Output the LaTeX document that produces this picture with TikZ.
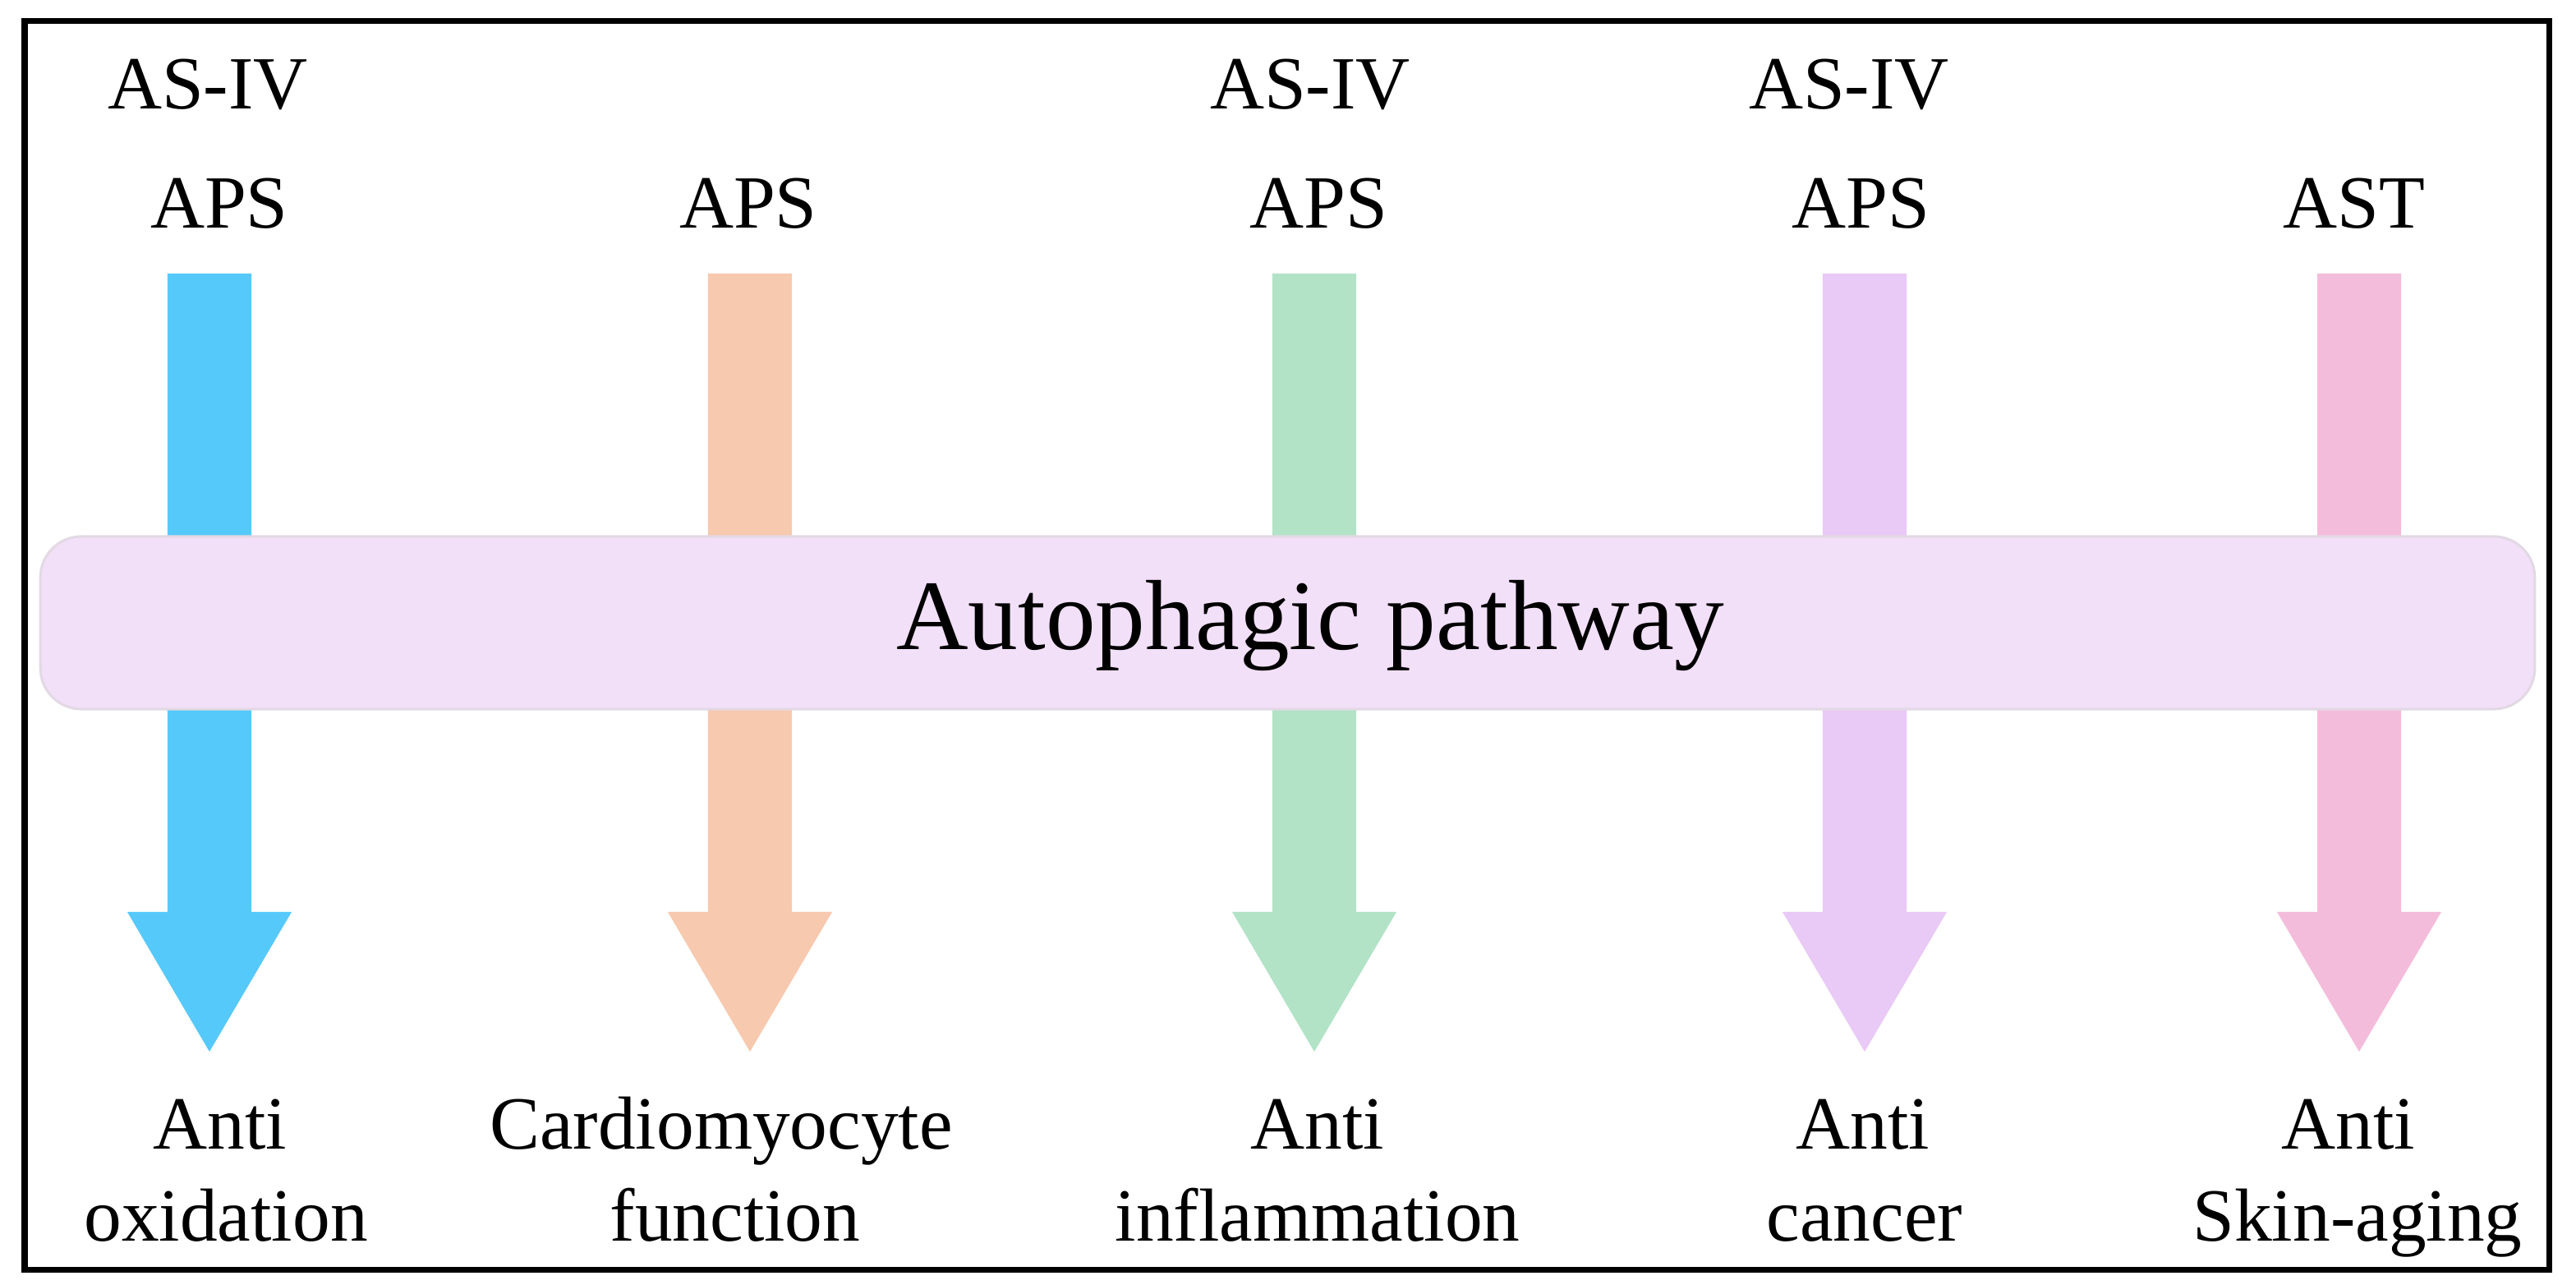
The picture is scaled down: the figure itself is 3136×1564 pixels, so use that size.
\documentclass[tikz,border=0pt]{standalone}
\usepackage{fontspec}
\setmainfont{Liberation Serif}
\definecolor{cblue}{HTML}{56C9FB}
\definecolor{corange}{HTML}{F7C9AE}
\definecolor{cgreen}{HTML}{B2E3C7}
\definecolor{cpurple}{HTML}{E9C9F5}
\definecolor{cpink}{HTML}{F4BCDB}
\definecolor{barfill}{HTML}{F2DFF8}
\definecolor{barline}{HTML}{E2D9E4}
\begin{document}
\begin{tikzpicture}[x=0.01cm,y=-0.01cm,
  lbl/.style={inner sep=0pt, anchor=base, font=\fontsize{26}{30}\selectfont},
  bigtxt/.style={inner sep=0pt, anchor=base, font=\fontsize{34.5}{40}\selectfont},
  frame/.style={draw=black, line width=0.07cm},
  banner/.style={draw=barline, fill=barfill, line width=0.03cm, rounded corners=0.5cm, inner sep=0pt}]
\useasboundingbox (0,0) rectangle (3136,1564);
\fill[white] (0,0) rectangle (3136,1564);
\draw[frame] (30,26) rectangle (3103,1545);

% block arrows
\foreach \x/\c/\n in {255/cblue/a, 913/corange/b, 1600/cgreen/c, 2270/cpurple/d, 2872/cpink/e}{
  \coordinate (top\n) at (\x,333);
  \coordinate (tip\n) at (\x,1280);
  \fill[\c] ([xshift=-0.51cm]top\n) -- ([xshift=0.51cm]top\n)
    -- ([xshift=0.51cm,yshift=1.7cm]tip\n) -- ([xshift=1.0cm,yshift=1.7cm]tip\n)
    -- (tip\n) -- ([xshift=-1.0cm,yshift=1.7cm]tip\n)
    -- ([xshift=-0.51cm,yshift=1.7cm]tip\n) -- cycle;
}

% banner
\node[banner, minimum width=30.35cm, minimum height=2.1cm] (bar) at (1567.5,758) {};
\node[bigtxt] (bartext) at (1595,790) {Autophagic pathway};

% top labels
\node[lbl] (t1a) at (253,133) {AS-IV};
\node[lbl] (t1b) at (267,278) {APS};
\node[lbl] (t2b) at (911,278) {APS};
\node[lbl] (t3a) at (1595,133) {AS-IV};
\node[lbl] (t3b) at (1605,278) {APS};
\node[lbl] (t4a) at (2251,133) {AS-IV};
\node[lbl] (t4b) at (2265,278) {APS};
\node[lbl] (t5b) at (2866,278) {AST};

% bottom labels
\node[lbl] (b1a) at (268,1398) {Anti};
\node[lbl] (b1b) at (275,1510) {oxidation};
\node[lbl] (b2a) at (878,1398) {Cardiomyocyte};
\node[lbl] (b2b) at (895,1510) {function};
\node[lbl] (b3a) at (1604,1398) {Anti};
\node[lbl] (b3b) at (1604,1510) {inflammation};
\node[lbl] (b4a) at (2268,1398) {Anti};
\node[lbl] (b4b) at (2270,1510) {cancer};
\node[lbl] (b5a) at (2859,1398) {Anti};
\node[lbl] (b5b) at (2870,1510) {Skin-aging};
\end{tikzpicture}
\end{document}
